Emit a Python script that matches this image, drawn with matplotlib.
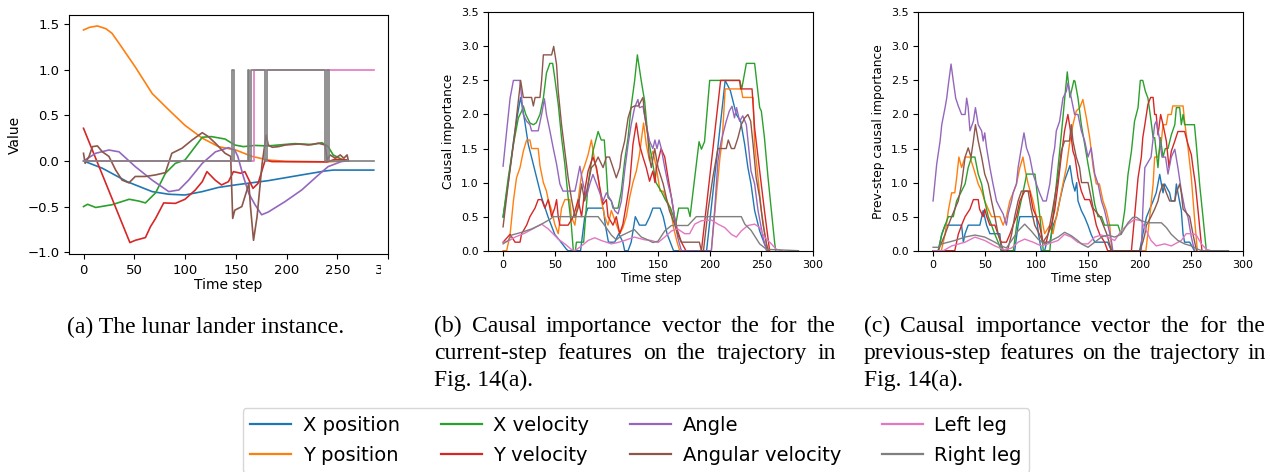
import matplotlib
matplotlib.use("Agg")
import matplotlib.pyplot as plt
from matplotlib.lines import Line2D
from matplotlib.transforms import Bbox, TransformedBbox

W, H = 1270, 472

LABELS = ["X position", "Y position", "X velocity", "Y velocity",
          "Angle", "Angular velocity", "Left leg", "Right leg"]
COLORS = ["tab:blue", "tab:orange", "tab:green", "tab:red",
          "tab:purple", "tab:brown", "tab:pink", "tab:gray"]

# ---- (a) state trajectory: (time step, value) ----
A_XPOS = [(0, 0.0), (18.6, -0.08), (43, -0.227), (67.6, -0.336), (84, -0.365), (100, -0.373),
          (117, -0.336), (133, -0.29), (150, -0.262), (182, -0.216), (215, -0.153),
          (238, -0.11), (246, -0.1), (286, -0.1)]
A_YPOS = [(0, 1.436), (6, 1.465), (13.7, 1.48), (22, 1.45), (28, 1.4), (35, 1.29), (51, 1.03),
          (67.6, 0.74), (84, 0.56), (100, 0.39), (117, 0.25), (133, 0.157), (150, 0.12),
          (166, 0.05), (182, 0.01), (200, -0.005), (240, -0.01), (259, 0.0)]
A_XVEL = [(0, -0.5), (4, -0.475), (12, -0.51), (28, -0.48), (45, -0.42), (54.6, -0.44), (61, -0.46),
          (71, -0.35), (80.7, -0.135), (90.5, -0.026), (100, 0.01), (110, 0.157), (117, 0.26),
          (126, 0.267), (139.5, 0.24), (149, 0.175), (157.5, 0.157), (169, 0.17), (182, 0.165),
          (208, 0.19), (225, 0.18), (235, 0.2), (241, 0.157), (246, 0.066), (254, 0.02), (259, 0.01)]
A_YVEL = [(0, 0.358), (45.7, -0.895), (51, -0.87), (61, -0.84), (66, -0.72), (71, -0.63), (79, -0.46),
          (90.5, -0.465), (100, -0.42), (110, -0.32), (117, -0.227), (121.6, -0.117), (129.7, -0.21),
          (136, -0.263), (142.8, -0.227), (147.7, -0.117), (155, -0.135), (159, -0.117), (167, -0.30),
          (172, -0.245), (179, 0.01), (185.6, -0.007), (240, -0.01), (248, 0.018), (259, 0.01)]
A_ANGLE = [(0, 0.0), (12, 0.084), (25, 0.12), (35, 0.10), (51, -0.062), (67.6, -0.21), (84, -0.336),
           (94, -0.318), (103.6, -0.21), (117, -0.026), (130, 0.10), (142.8, 0.146), (149, 0.12),
           (152, 0.05), (157.5, -0.17), (163, -0.36), (169, -0.48), (175.5, -0.59), (182, -0.56),
           (198.5, -0.446), (215, -0.318), (231.5, -0.153), (241, -0.062), (254, -0.007), (259, 0.0)]
A_ANGVEL = [(0, 0.084), (1.6, -0.026), (5.5, 0.05), (8.8, 0.157), (13.7, 0.165), (18.6, 0.10),
            (25, 0.05), (31.7, -0.1), (38, -0.21), (44.8, -0.24), (51, -0.17), (61, -0.17),
            (71, -0.153), (80.7, -0.128), (87, 0.084), (97, 0.139), (107, 0.23), (117, 0.31),
            (123, 0.267), (130, 0.194), (139.5, 0.084), (145, 0.05), (147, -0.63), (149, -0.54),
            (156, -0.50), (161, -0.32), (162.9, -0.245), (164.5, -0.50), (167.5, -0.87), (171, -0.61),
            (176, -0.026), (180, 0.285), (182, 0.175), (186, 0.15), (192, 0.157), (199, 0.175),
            (212, 0.186), (221.6, 0.175), (231.5, 0.194), (238, 0.175), (240, 0.01), (243, 0.066),
            (248, 0.03), (253, 0.066), (256.5, 0.03), (259.7, 0.066), (261, 0.0)]
# leg contacts are on/off signals
A_LEFT = [(0, 0), (168, 1), (286, 1)]
A_RIGHT = [(0, 0), (146, 1), (148, 0), (162, 1), (163, 0), (165, 1), (179, 0), (181, 1),
           (238, 0), (240, 1), (242, 0), (286, 0)]

# ---- (b) current-step causal importance ----
B_XPOS = [(0, 0.5), (5, 1.0), (10, 1.6), (14, 2.0), (17, 2.25), (21, 1.9), (24.4, 1.56), (27.6, 1.37),
          (34, 0.98), (37.3, 0.78), (43.7, 0.49), (50, 0.24), (55, 0.146), (61.4, 0.02), (63, 0),
          (75, 0), (79, 0.49), (82, 0.625), (97, 0.625), (99, 0.375), (102, 0.125), (108, 0.125),
          (112, 0.25), (116, 0.125), (117.7, 0), (121, 0), (124, 0.125), (128, 0.5), (132, 0.375),
          (138, 0.375), (142, 0.5), (145, 0.625), (152, 0.625), (155, 0.5), (158.7, 0.25), (165, 0),
          (197, 0), (215, 2.5), (220, 2.35), (225.8, 2.0), (230, 1.9), (233.9, 1.56), (237, 1.22),
          (240, 0.98), (243.5, 0.59), (248.4, 0.29), (253, 0.1), (256.5, 0)]
B_YPOS = [(0, 0), (3.5, 0), (6.8, 0.24), (10, 0.73), (13, 1.07), (16.4, 1.22), (19.6, 1.46),
          (22.8, 1.625), (26, 1.625), (27.6, 1.5), (34, 1.5), (35.7, 1.25), (39, 1.0), (42, 0.875),
          (43.7, 0.75), (47, 0.59), (50, 0.39), (53.4, 0.25), (56.6, 0.625), (59.8, 0.75), (64.6, 0.75),
          (66, 0.5), (69.5, 0.375), (72.7, 0.75), (76, 1.125), (79, 1.25), (82.3, 1.41), (85.5, 1.625),
          (88.7, 1.32), (92, 1.07), (95, 0.75), (98.4, 0.5), (101.6, 0.375), (104.8, 0.59), (109.6, 0.39),
          (113, 0.25), (116, 0.34), (119.3, 0.5), (122.5, 0.78), (125.7, 1.0), (129, 1.17), (132, 1.41),
          (136, 1.875), (138.6, 1.56), (141.8, 1.32), (145, 1.46), (148, 1.25), (152, 0.875),
          (155, 0.875), (158, 0.75), (162, 0.625), (165, 0.34), (168, 0.15), (171, 0), (201.6, 0),
          (207, 0.9), (210, 1.375), (212, 1.6), (215, 2.375), (230.6, 2.375), (232, 2.25), (242, 2.25),
          (243.5, 1.56), (246.8, 1.07), (250, 0.59), (254.8, 0.1), (257, 0)]
B_XVEL = [(0, 0.49), (5, 1.07), (10, 1.56), (14.8, 1.95), (18, 2.05), (19.6, 2.125), (22, 2.0),
          (26, 1.875), (29.3, 1.85), (32, 1.875), (35.7, 2.0), (39, 2.24), (42, 2.61), (45.3, 2.75),
          (48, 2.75), (50, 2.54), (53.4, 2.15), (56.6, 1.66), (59.8, 1.27), (63, 0.78), (66, 0.39),
          (68, 0), (70, 0), (71, 0.125), (78, 0.125), (82.3, 0.98), (87, 1.46), (92, 1.75), (95, 1.625),
          (98, 1.625), (100, 1.17), (101.6, 0.78), (104.8, 0.73), (106.4, 0.625), (111.3, 0.625),
          (114.5, 0.88), (117.7, 1.32), (121, 1.66), (124, 2.12), (127.3, 2.49), (130, 2.875),
          (133.8, 2.49), (137, 2.2), (140, 1.7), (143.4, 1.41), (148, 1.0), (153, 0.875), (157, 0.75),
          (162, 0.625), (165, 0.5), (167, 0.375), (170, 0.625), (179, 0.625), (181, 0.5),
          (185.5, 1.07), (189.7, 1.6), (192, 1.49), (195, 1.6), (200, 2.5), (229, 2.5), (231, 2.375),
          (235.5, 2.75), (243.5, 2.75), (248.4, 2.1), (250, 2.05), (253, 1.66), (256.5, 1.07),
          (259.7, 0.59), (263, 0.1), (264, 0)]
B_YVEL = [(0, 0.125), (6.8, 0.24), (11.6, 0.125), (16.4, 0.125), (18, 0.25), (22.8, 0.375), (26, 0.5),
          (30.9, 0.625), (34, 0.75), (37.3, 0.75), (40.5, 0.625), (43.7, 0.75), (47, 0.5), (50, 0.625),
          (51.8, 0.75), (53.4, 0.5), (55, 0.375), (63, 0.375), (68, 0.5), (72.7, 0.75), (76, 0.5),
          (79, 0.875), (82.3, 1.17), (87, 1.375), (90.4, 1.22), (93.6, 0.93), (96.8, 0.68), (100, 0.75),
          (101.6, 0.5), (106.4, 0.375), (109.6, 0.5), (112.9, 0.25), (116, 0.39), (119.3, 0.68),
          (122.5, 0.98), (125.7, 1.56), (129, 1.875), (132, 1.56), (135.4, 1.375), (138.6, 1.22),
          (141.8, 1.02), (145, 1.17), (147, 1.0), (148.4, 1.22), (153, 1.5), (156.5, 1.375),
          (159.7, 1.07), (163, 0.78), (166, 0.49), (169, 0.29), (172.6, 0.125), (177, 0), (192, 0),
          (210.6, 2.5), (229, 2.5), (230, 2.375), (241, 2.375), (243.5, 1.8), (248.4, 1.17),
          (253, 0.59), (258, 0)]
B_ANGLE = [(0, 1.24), (3.5, 1.76), (6.8, 2.24), (10, 2.5), (16.4, 2.5), (18, 2.24), (19.6, 2.0),
           (22.8, 1.9), (26, 1.85), (27.6, 1.76), (34, 1.76), (37.3, 2.0), (40, 2.23), (42, 2.0),
           (45.3, 1.76), (48.5, 1.51), (51.8, 1.27), (55, 0.98), (58, 0.875), (69.5, 0.875), (71, 0.98),
           (74.3, 1.24), (77.5, 0.98), (80.7, 0.8), (84, 0.98), (87, 1.12), (90.4, 0.98), (93.6, 0.85),
           (96.8, 0.73), (100, 0.85), (104.8, 0.73), (108, 0.59), (111.3, 0.54), (114.5, 0.73),
           (117.7, 1.17), (121, 1.56), (124, 1.85), (127.3, 2.1), (130.5, 2.22), (132, 2.1),
           (135.4, 2.12), (138.6, 1.85), (141.8, 1.61), (145, 1.5), (147, 1.625), (149, 1.5),
           (151, 1.625), (153, 1.51), (156.5, 1.22), (159.7, 0.98), (163, 0.78), (166, 0.49),
           (169, 0.2), (172.6, 0), (201.6, 0), (204.8, 0.59), (208, 1.32), (211, 1.6), (216, 1.9),
           (219, 2.05), (221.6, 2.12), (224, 1.95), (226, 2.1), (229, 1.9), (232, 1.98), (235.5, 1.85),
           (240, 1.17), (243.5, 0.98), (246.8, 0.59), (251.6, 0.2), (255, 0)]
B_ANGVEL = [(0, 0.35), (5, 0.98), (10, 1.56), (14.8, 2.2), (17, 2.5), (19.6, 2.25), (27.6, 2.25),
            (29.3, 2.125), (31, 2.25), (35.7, 2.25), (37.3, 2.5), (39, 2.875), (47, 2.875), (49, 3.0),
            (51.8, 2.73), (53.4, 2.34), (56.6, 1.85), (59.8, 1.46), (63, 1.07), (66, 0.78), (69.5, 0.49),
            (72.7, 0.63), (76, 0.98), (79, 0.73), (82.3, 0.98), (85.5, 1.22), (88.7, 1.27), (92, 1.375),
            (96.8, 1.22), (100, 1.375), (103, 1.375), (106.4, 1.22), (109.6, 1.07), (113, 1.22),
            (114.5, 1.41), (117.7, 1.61), (121, 1.95), (124, 2.1), (127.3, 2.125), (131, 2.125),
            (135.4, 2.25), (137, 2.0), (140, 1.7), (141.5, 1.375), (143.5, 1.22), (146.8, 1.5),
            (150, 1.22), (155, 0.98), (158, 0.78), (161, 0.59), (166, 0.39), (169, 0.24),
            (172.6, 0.125), (190, 0.125), (192, 0), (194, 0), (198.4, 0.59), (203, 1.07),
            (206.5, 1.37), (208, 1.5), (216, 1.5), (218, 1.625), (221, 1.5), (224, 1.5), (227.4, 1.66),
            (230.6, 1.85), (234, 1.95), (237, 2.0), (239.7, 1.9), (242, 1.56), (245, 1.07),
            (248.4, 0.78), (251.6, 0.39), (255, 0.1), (256.5, 0)]
B_LEFT = [(0, 0.125), (5, 0.14), (11.6, 0.2), (20, 0.25), (30, 0.33), (37.3, 0.39), (43.7, 0.32),
          (53.4, 0.17), (59.8, 0.1), (66, 0.02), (69.5, 0), (76, 0.07), (82.3, 0.15), (88.7, 0.19),
          (95, 0.15), (104.8, 0.1), (111, 0.12), (117.7, 0.15), (127, 0.2), (137, 0.16), (143.5, 0.15),
          (150, 0.12), (156.5, 0.2), (163, 0.29), (169, 0.32), (175.8, 0.25), (180.6, 0.25),
          (185.5, 0.39), (192, 0.44), (201.6, 0.45), (208, 0.39), (214.5, 0.34), (221, 0.24),
          (225.8, 0.2), (230.6, 0.29), (237, 0.37), (243.5, 0.39), (248.4, 0.34), (253, 0.2),
          (259.7, 0.1), (264.5, 0.02), (270, 0.0)]
B_RIGHT = [(0, 0.1), (5, 0.15), (8.4, 0.23), (18, 0.27), (27.7, 0.32), (37.3, 0.39), (45.3, 0.46),
           (48.5, 0.5), (92, 0.5), (98.4, 0.37), (104.8, 0.23), (109.6, 0.16), (114.5, 0.22),
           (124, 0.29), (127, 0.31), (133.8, 0.2), (140, 0.16), (145, 0.12), (150, 0.14),
           (156.5, 0.29), (163, 0.37), (179, 0.37), (187, 0.5), (230.6, 0.5), (234, 0.39), (240, 0.3),
           (248.4, 0.1), (255, 0.02), (286, 0.0)]

# ---- (c) previous-step causal importance ----
C_XPOS = [(0, 0), (5, 0), (8.4, 0.24), (11.6, 0.375), (27.6, 0.375), (29.3, 0.125), (31, 0.25),
          (34, 0.375), (45.3, 0.375), (48.5, 0.59), (51.8, 0.375), (55, 0.25), (64.6, 0.25), (66, 0),
          (79, 0), (82.3, 0.375), (84, 0.5), (100, 0.5), (102, 0.25), (104.8, 0), (108, 0),
          (110, 0.125), (113, 0.125), (116.3, 0.375), (119.5, 0.5), (122.8, 0.75), (126.6, 1.0),
          (132.5, 1.25), (135, 1.0), (137.3, 0.875), (139, 1.0), (140.3, 0.73), (143.5, 0.59),
          (146.8, 0.49), (150, 0.37), (153, 0.24), (156.5, 0.125), (169, 0.125), (172.6, 0),
          (200, 0), (203, 0.24), (206.5, 0.49), (209.7, 0.61), (213, 0.73), (216, 0.85),
          (219.4, 1.12), (221, 0.98), (222.6, 0.85), (224.2, 0.98), (229, 0.85), (230.6, 0.73),
          (234, 0.73), (235.5, 0.98), (237, 0.85), (240.3, 0.59), (242, 0.24), (243.5, 0.125),
          (248.4, 0.125), (253, 0)]
C_YPOS = [(0, 0), (8, 0), (11.6, 0.24), (14.8, 0.59), (18, 0.85), (21, 0.85), (22.8, 1.07),
          (25, 1.375), (27.6, 1.22), (31, 1.375), (35.7, 1.375), (39, 1.22), (43.7, 0.98),
          (47, 0.875), (50, 0.73), (53.4, 0.61), (56.6, 0.5), (64.6, 0.5), (67.8, 0.375), (71, 0.5),
          (74.3, 0.73), (77.5, 0.85), (80.7, 0.98), (84, 1.22), (87, 1.375), (88.7, 1.22), (92, 0.98),
          (96.8, 0.73), (100, 0.5), (104.8, 0.5), (108, 0.25), (113, 0.375), (116, 0.25),
          (119.3, 0.5), (122.5, 0.73), (125.7, 0.98), (129, 1.22), (132, 1.56), (135.4, 1.85),
          (138.6, 2.05), (142, 2.1), (145, 2.22), (148.4, 1.95), (151.6, 1.66), (155, 1.22),
          (158, 0.98), (161, 0.98), (164.5, 0.73), (167.7, 0.59), (171, 0.37), (173, 0), (206, 0),
          (209.7, 0.49), (213, 0.98), (214.5, 1.375), (217.7, 1.375), (221, 1.61), (222.6, 1.85),
          (225.8, 1.85), (227.4, 2.0), (230.6, 2.0), (232, 2.125), (242, 2.125), (243.5, 1.9),
          (246.8, 1.51), (250, 1.07), (253, 0.49), (255.8, 0)]
C_XVEL = [(0, 0), (5, 0), (8.4, 0.24), (11.6, 0.375), (14.8, 0.5), (19.6, 0.5), (22.8, 0.73),
          (27.6, 0.875), (31, 0.98), (34, 1.22), (37.3, 1.375), (40.5, 1.375), (43.7, 1.125),
          (47, 0.98), (50, 0.73), (53.4, 0.5), (56.6, 0.375), (59.8, 0.24), (63, 0.125), (66, 0),
          (77.7, 0), (82, 0.5), (89, 1.0), (90.6, 1.125), (98.6, 1.125), (100.5, 0.875), (103.4, 0.5),
          (106.7, 0), (113, 0), (116, 0.5), (119.5, 1.0), (122.8, 1.5), (126, 2.0), (127.5, 2.25),
          (129.9, 2.625), (132.5, 2.25), (136.3, 2.5), (137.3, 2.49), (140.3, 2.24), (143.5, 1.85),
          (146.8, 1.56), (150, 1.27), (153, 1.02), (156.5, 0.68), (159.7, 0.5), (163, 0.5),
          (166, 0.375), (179, 0.375), (182, 0.24), (185.5, 0.59), (188.7, 1.12), (192, 1.46),
          (195, 1.9), (198.4, 2.1), (200.6, 2.5), (203, 2.5), (205.5, 2.34), (208, 2.24),
          (210.6, 1.95), (213, 1.66), (214.5, 1.66), (217.7, 1.22), (220, 1.66), (222.6, 1.375),
          (224.8, 1.5), (227.4, 1.5), (230.6, 1.7), (234, 1.85), (235.5, 2.1), (238.7, 2.1),
          (240.3, 1.85), (242, 2.0), (243.5, 1.85), (253, 1.85), (254.8, 1.56), (258, 0.98),
          (261.3, 0.49), (264.5, 0)]
C_YVEL = [(0, 0), (21, 0), (24.4, 0.24), (27.6, 0.375), (31, 0.5), (35.7, 0.61), (39, 0.75),
          (43.7, 0.75), (45, 0.61), (48.5, 0.5), (50, 0.61), (52, 0.5), (55, 0.375), (59.8, 0.375),
          (63, 0.24), (66, 0.125), (71, 0.125), (74.3, 0.24), (77.5, 0.375), (80.7, 0.5), (84, 0.73),
          (88.7, 0.875), (93.6, 0.875), (96.8, 0.61), (100, 0.5), (103, 0.375), (106.4, 0.125),
          (109.6, 0.125), (111.3, 0.24), (114.5, 0.375), (117.7, 0.59), (121, 0.98), (124, 1.375),
          (127.3, 1.76), (130.5, 2.0), (133, 1.76), (135.4, 1.46), (137.3, 1.375), (140.3, 1.07),
          (143.5, 0.875), (146.8, 0.75), (151.6, 0.75), (155, 0.59), (158, 0.375), (161.3, 0.24),
          (166, 0.125), (169, 0), (192, 0), (195, 0.49), (198.4, 1.07), (201.6, 1.375), (203, 1.66),
          (205, 1.85), (208, 2.15), (210.6, 2.25), (213, 2.25), (214.5, 2.0), (216, 2.0),
          (217.7, 1.7), (220.3, 2.0), (222.6, 1.85), (225.8, 1.61), (228.4, 1.22), (230.6, 1.46),
          (234, 1.61), (237, 1.75), (243.5, 1.75), (246.8, 1.56), (250, 1.41), (251.6, 1.22),
          (253.9, 0.98), (256.5, 0.59), (259, 0.2), (260.3, 0)]
C_ANGLE = [(0, 0.73), (3.5, 1.27), (6.8, 1.61), (8.4, 1.85), (11.6, 2.1), (13.2, 2.24), (14.8, 2.44),
           (17.4, 2.74), (19.6, 2.49), (21.9, 2.24), (24.4, 2.125), (27.6, 2.0), (31, 2.0),
           (32.5, 2.24), (34, 2.1), (35.7, 1.76), (39, 1.9), (41, 2.1), (43.7, 1.85), (47, 1.76),
           (48.5, 1.61), (50, 1.73), (51.8, 1.51), (55, 1.22), (58, 0.98), (61.4, 0.73), (64.6, 0.63),
           (67.8, 0.54), (71, 0.375), (72.7, 0.54), (76, 0.73), (77.5, 0.85), (80.7, 0.98),
           (82.3, 1.22), (85.5, 1.51), (88, 1.73), (90.4, 1.51), (93.6, 1.375), (96.8, 1.125),
           (100, 0.98), (103, 0.85), (106.4, 0.73), (109.6, 0.73), (113, 0.98), (116, 1.375),
           (117.7, 1.51), (119.3, 1.76), (122.5, 1.9), (125.7, 2.24), (129, 2.34), (130.5, 2.46),
           (133.8, 2.24), (137, 2.0), (140.3, 2.0), (143.5, 1.76), (146.8, 1.61), (150, 1.375),
           (153, 1.51), (156.5, 1.125), (159.7, 0.98), (163, 0.73), (166, 0.59), (169, 0.39),
           (172.6, 0.15), (174, 0), (201.6, 0), (203, 0.59), (205, 1.22), (211, 1.375),
           (214.5, 1.85), (216, 1.9), (219, 1.66), (221.6, 1.375), (225, 1.375), (227.4, 1.125),
           (230.6, 1.375), (234, 1.49), (237, 1.22), (240.3, 0.88), (243.5, 0.63), (246.8, 0.49),
           (250, 0.2), (253, 0)]
C_ANGVEL = [(0, 0), (5, 0), (8.4, 0.125), (11.6, 0.24), (14.8, 0.375), (18, 0.5), (21, 0.61),
            (24.4, 0.73), (27.6, 0.98), (31, 1.375), (34, 1.51), (36.7, 1.375), (39, 1.61), (41, 1.85),
            (43.7, 1.61), (47, 1.375), (50, 1.125), (53.4, 0.98), (56.6, 0.73), (59.8, 0.5), (63, 0.24),
            (68, 0), (72, 0), (76, 0.24), (79, 0.5), (82.3, 0.73), (85.5, 0.875), (92, 0.875),
            (95, 0.61), (98.4, 0.375), (103, 0.24), (106.4, 0.125), (111.3, 0.24), (114.5, 0.5),
            (117.7, 0.78), (121, 1.07), (124, 1.46), (127.3, 1.61), (132, 1.61), (133.8, 1.85),
            (135.4, 1.61), (138.6, 1.375), (141.8, 1.22), (143.7, 1.0), (150, 1.0), (155, 0.625),
            (161.5, 0.5), (168, 0.25), (172.7, 0), (200, 0), (203, 0.125), (205, 0.24), (206.5, 0.375),
            (211, 0.5), (214.5, 0.61), (217.7, 0.73), (219.4, 0.85), (222.6, 0.98), (225.8, 0.85),
            (229, 0.73), (234, 0.73), (235.5, 0.85), (238.7, 0.98), (240.3, 0.85), (242, 0.61),
            (248.4, 0.5), (251.6, 0.24), (255, 0)]
C_LEFT = [(0, 0), (10, 0), (18, 0.07), (31, 0.125), (40.5, 0.2), (50, 0.15), (59.8, 0.07),
          (69.5, 0.01), (76, 0.04), (82.3, 0.125), (88.7, 0.17), (96.8, 0.125), (104.8, 0.07),
          (111.3, 0.1), (121, 0.15), (127.3, 0.24), (133.8, 0.2), (140, 0.125), (145, 0.1), (150, 0.1),
          (156.5, 0.2), (163, 0.23), (169, 0.2), (175.8, 0.15), (182, 0.29), (188.7, 0.39),
          (195, 0.46), (201.6, 0.44), (206.5, 0.29), (211, 0.15), (216, 0.07), (224.2, 0.1),
          (230.6, 0.07), (240.3, 0.15), (245, 0.25), (251.6, 0.25), (254.8, 0.23), (259.7, 0.1),
          (264.5, 0.02), (269, 0)]
C_RIGHT = [(0, 0.05), (5, 0.05), (8.4, 0.1), (14.8, 0.125), (21, 0.15), (31, 0.2), (40.5, 0.23),
           (50, 0.2), (59.8, 0.125), (66, 0.07), (71, 0.04), (76, 0.15), (82.3, 0.29), (88.7, 0.39),
           (95, 0.29), (101.6, 0.17), (108, 0.1), (114.5, 0.15), (121, 0.2), (127.3, 0.27),
           (133.8, 0.22), (140, 0.15), (143.5, 0.1), (150, 0.05), (156.5, 0.125), (163, 0.2),
           (169, 0.23), (175.8, 0.2), (182, 0.24), (188.7, 0.41), (193.5, 0.49), (197, 0.49),
           (201.6, 0.44), (208, 0.41), (221, 0.41), (225.8, 0.34), (230.6, 0.24), (237, 0.15),
           (243.5, 0.1), (250, 0.07), (256.5, 0.02), (260, 0), (286, 0)]

CAP_A = "(a) The lunar lander instance."
CAP_B = ["(b) Causal importance vector the for the",
         "current-step features on the trajectory in",
         "Fig. 14(a)."]
CAP_C = ["(c) Causal importance vector the for the",
         "previous-step features on the trajectory in",
         "Fig. 14(a)."]
CAP_SIZE = 17


def fx(x):
    return x / W


def fy(y):
    return 1 - y / H


def plot_series(ax, series, lw, steps=()):
    for i, (pts, color) in enumerate(zip(series, COLORS)):
        t = [p[0] for p in pts]
        v = [p[1] for p in pts]
        ds = "steps-post" if i in steps else "default"
        ax.plot(t, v, color=color, lw=lw, drawstyle=ds)


def style_axes(ax, xlabel, ylabel, tick_fs, label_fs):
    ax.set_xticks(range(0, 301, 50))
    ax.tick_params(labelsize=tick_fs)
    ax.set_xlabel(xlabel, fontsize=label_fs, labelpad=1)
    ax.set_ylabel(ylabel, fontsize=label_fs)


def caption(fig, lines, x0, x1, y0, dy, size):
    r = fig.canvas.get_renderer()
    for k, line in enumerate(lines):
        y = fy(y0 + k * dy)
        if k == len(lines) - 1:
            fig.text(fx(x0), y, line, fontsize=size, family="Liberation Serif", va="baseline")
            continue
        # justified line: spread the words over the full column width
        words = line.split()
        objs = [fig.text(0, y, w, fontsize=size, family="Liberation Serif", va="baseline")
                for w in words]
        widths = [o.get_window_extent(r).width for o in objs]
        gap = (x1 - x0 - sum(widths)) / (len(words) - 1)
        x = x0
        for o, w in zip(objs, widths):
            o.set_x(fx(x))
            x += w + gap


fig = plt.figure(figsize=(W / 100, H / 100), dpi=100)

ax_a = fig.add_axes([fx(69), fy(254), fx(319.3), 239 / H])
ax_b = fig.add_axes([fx(488.3), fy(250.7), fx(325), 238.4 / H])
ax_c = fig.add_axes([fx(918.3), fy(250.7), fx(325), 238.4 / H])

plot_series(ax_a, [A_XPOS, A_YPOS, A_XVEL, A_YVEL, A_ANGLE, A_ANGVEL, A_LEFT, A_RIGHT],
            lw=1.2, steps=(6, 7))
ax_a.set_ylim(-1.02, 1.60)
ax_a.set_yticks([-1.0, -0.5, 0.0, 0.5, 1.0, 1.5])
style_axes(ax_a, "Time step", "Value", 9.5, 10)

plot_series(ax_b, [B_XPOS, B_YPOS, B_XVEL, B_YVEL, B_ANGLE, B_ANGVEL, B_LEFT, B_RIGHT], lw=1.0)
ax_b.set_ylim(0, 3.5)
style_axes(ax_b, "Time step", "Causal importance", 8, 8.8)

plot_series(ax_c, [C_XPOS, C_YPOS, C_XVEL, C_YVEL, C_ANGLE, C_ANGVEL, C_LEFT, C_RIGHT], lw=1.0)
ax_c.set_ylim(0, 3.5)
style_axes(ax_c, "Time step", "Prev-step causal importance", 8, 8.8)

# the first panel is cropped just right of its frame
fig.canvas.draw()
crop = TransformedBbox(Bbox([[0, 0], [fx(381), 1]]), fig.transFigure)
for lbl in ax_a.get_xticklabels():
    lbl.set_clip_box(crop)
    lbl.set_clip_on(True)

fig.text(fx(206), fy(333), CAP_A, fontsize=CAP_SIZE, family="Liberation Serif",
         ha="center", va="baseline")
caption(fig, CAP_B, 434, 836, 331.7, 27.2, CAP_SIZE)
caption(fig, CAP_C, 864, 1266, 331.7, 27.2, CAP_SIZE)

handles = [Line2D([], [], color=c, lw=1.6) for c in COLORS]
fig.legend(handles, LABELS, ncol=4, loc="lower center", bbox_to_anchor=(fx(636), fy(472.5)),
           fontsize=14, handlelength=2.1, handletextpad=0.6, columnspacing=2.1,
           labelspacing=0.55, borderaxespad=0.0, borderpad=0.4)

fig.savefig("out.png", dpi=100)
